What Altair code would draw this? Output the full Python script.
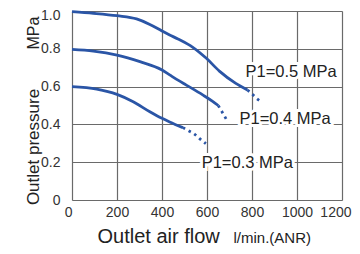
import altair as alt
import pandas as pd

# ---- data ----
curves = ["P1=0.5 MPa", "P1=0.4 MPa", "P1=0.3 MPa"]

a_flow = [0, 95, 200, 287, 346, 400, 434, 471, 537, 596, 655, 728, 780]
a_p = [0.997, 0.988, 0.975, 0.958, 0.929, 0.894, 0.873, 0.852, 0.808, 0.751, 0.682, 0.617, 0.582]
a_dot_flow = [780, 802, 820, 842]
a_dot_p = [0.582, 0.559, 0.538, 0.52]

b_flow = [0, 95, 200, 302, 400, 434, 471, 508, 581, 625, 650]
b_p = [0.797, 0.788, 0.767, 0.732, 0.688, 0.662, 0.634, 0.608, 0.556, 0.522, 0.5]
b_dot_flow = [650, 669, 692]
b_dot_p = [0.5, 0.462, 0.414]

c_flow = [0, 110, 200, 272, 346, 400, 434, 493]
c_p = [0.6, 0.587, 0.559, 0.52, 0.467, 0.432, 0.413, 0.383]
c_dot_flow = [493, 522, 544, 566, 595]
c_dot_p = [0.383, 0.364, 0.349, 0.326, 0.298]

label_flow = [974, 947, 779]
label_p = [0.652, 0.403, 0.167]

x_ticks = [0, 200, 400, 600, 800, 1000, 1200]
y_ticks = [0, 0.2, 0.4, 0.6, 0.8, 1.0]

x_title = "Outlet air flow"
x_unit = "l/min.(ANR)"
y_title = "Outlet pressure"
y_unit = "MPa"

# ---- tables ----
rows = []
for name, fl, pr, dfl, dpr in [
    (curves[0], a_flow, a_p, a_dot_flow, a_dot_p),
    (curves[1], b_flow, b_p, b_dot_flow, b_dot_p),
    (curves[2], c_flow, c_p, c_dot_flow, c_dot_p),
]:
    for f, p in zip(fl, pr):
        rows.append({"curve": name, "seg": "solid", "flow": f, "p": p})
    for f, p in zip(dfl, dpr):
        rows.append({"curve": name, "seg": "dot", "flow": f, "p": p})
df = pd.DataFrame(rows)
labels = pd.DataFrame({"curve": curves, "flow": label_flow, "p": label_p})

BLUE = "#2A55A6"
FONT = "Liberation Sans"

xs = alt.Scale(domain=[0, 1200], nice=False, zero=False)
ys = alt.Scale(domain=[0, 1.0], nice=False, zero=False)

x_enc = alt.X("flow:Q", scale=xs, axis=alt.Axis(
    values=x_ticks, format="d", title=None, grid=True, gridColor="#6a6a6a",
    gridWidth=1.2, domain=False, ticks=False, labelFont=FONT, labelFontSize=14,
    labelColor="#333333", labelPadding=5, labelOverlap=False, labelFlush=False,
    labelAlign=alt.ExprRef(
        "datum.value == 0 ? 'right' : (datum.value == 1200 ? 'right' : 'center')"),
    labelOffset=alt.ExprRef("datum.value == 1200 ? 9 : 0")))
y_enc = alt.Y("p:Q", scale=ys, axis=alt.Axis(
    values=y_ticks, title=None, grid=True, gridColor="#6a6a6a", gridWidth=1.2,
    domain=False, ticks=False, labelFont=FONT, labelFontSize=14,
    labelColor="#333333", labelPadding=12, labelOverlap=False, labelFlush=False,
    labelOffset=alt.ExprRef("datum.value == 1 ? 4 : 0"),
    labelExpr="datum.value == 0 ? '0' : format(datum.value, '.1f')"))

base = alt.Chart(df)
solid = base.transform_filter(alt.datum.seg == "solid").mark_line(
    color=BLUE, strokeWidth=2.8, interpolate="monotone"
).encode(x=x_enc, y=y_enc, detail="curve:N")
dots = base.transform_filter(alt.datum.seg == "dot").mark_line(
    color=BLUE, strokeWidth=2.8, strokeDash=[2.5, 4], interpolate="monotone"
).encode(x=x_enc, y=y_enc, detail="curve:N")

lab_halo = alt.Chart(labels).mark_text(
    font=FONT, fontSize=16.5, align="center", baseline="alphabetic",
    stroke="white", strokeWidth=6, color="white"
).encode(x=x_enc, y=y_enc, text="curve:N")
lab = alt.Chart(labels).mark_text(
    font=FONT, fontSize=16.5, align="center", baseline="alphabetic", color="#222222"
).encode(x=x_enc, y=y_enc, text="curve:N")

t = pd.DataFrame({"a": [0]})
xt = alt.Chart(t).mark_text(font=FONT, fontSize=20, align="left",
                            baseline="alphabetic", color="#222222", text=x_title
).encode(x=alt.value(25.5), y=alt.value(231.5))
xu = alt.Chart(t).mark_text(font=FONT, fontSize=15, align="left",
                            baseline="alphabetic", color="#222222", text=x_unit
).encode(x=alt.value(161.5), y=alt.value(231.5))
yt = alt.Chart(t).mark_text(font=FONT, fontSize=17, align="center", angle=270,
                            baseline="alphabetic", color="#222222", text=y_title
).encode(x=alt.value(-33.5), y=alt.value(136))
yu = alt.Chart(t).mark_text(font=FONT, fontSize=16, align="center", angle=270,
                            baseline="alphabetic", color="#222222", text=y_unit
).encode(x=alt.value(-33.5), y=alt.value(22))

chart = alt.layer(solid, dots, lab_halo, lab, xt, xu, yt, yu).properties(
    width=270, height=189,
    autosize=alt.AutoSizeParams(type="none"),
    padding={"left": 64, "top": 3, "right": 10, "bottom": 46},
).configure_view(stroke="#333333", strokeWidth=1.5).configure_axis(
    labelOverlap=False
).configure(background="white")

chart.save("out.html", embed_options={"renderer": "svg", "actions": False})
